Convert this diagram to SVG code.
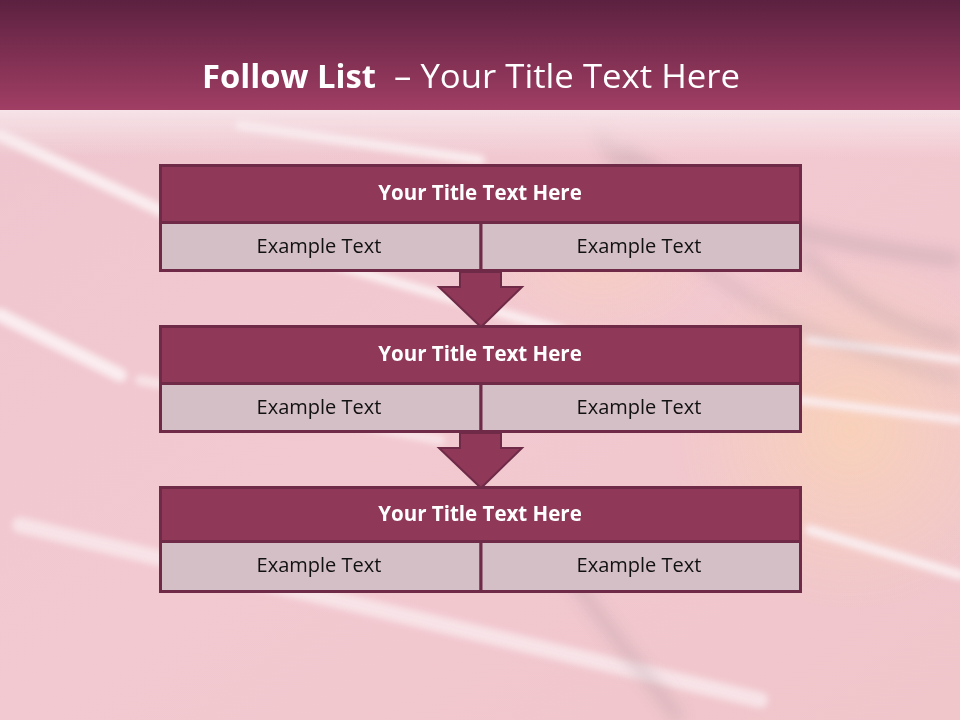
<svg xmlns="http://www.w3.org/2000/svg" width="960" height="720" viewBox="0 0 960 720">
<defs>
<linearGradient id="hdr" x1="0" y1="0" x2="0" y2="1">
<stop offset="0" stop-color="#5C2140"/>
<stop offset="1" stop-color="#A13E64"/>
</linearGradient>
<linearGradient id="bg" x1="0" y1="0" x2="1" y2="1">
<stop offset="0" stop-color="#EEC5CE"/>
<stop offset="0.5" stop-color="#F3C9D1"/>
<stop offset="1" stop-color="#F0C6CB"/>
</linearGradient>
<linearGradient id="fade" x1="0" y1="0" x2="0" y2="1">
<stop offset="0" stop-color="#F6E6EA" stop-opacity="0.95"/>
<stop offset="1" stop-color="#F6E6EA" stop-opacity="0"/>
</linearGradient>
<radialGradient id="orange" cx="0.5" cy="0.5" r="0.5">
<stop offset="0" stop-color="#F9D2B8"/>
<stop offset="1" stop-color="#F9D2B8" stop-opacity="0"/>
</radialGradient>
<filter id="blur" x="-20%" y="-20%" width="140%" height="140%"><feGaussianBlur stdDeviation="3"/></filter>
<filter id="blur2" x="-20%" y="-20%" width="140%" height="140%"><feGaussianBlur stdDeviation="8"/></filter>
<style>
.title{fill:#8F3858;stroke:#6E2A46;stroke-width:3}
.sub{fill:#D5BFC6;stroke:#6E2A46;stroke-width:3}
.tt{font-family:"Open Sans","Noto Sans",sans-serif;font-weight:bold;font-size:20.5px;fill:#FFFFFF;text-anchor:middle}
.et{font-family:"Open Sans","Noto Sans",sans-serif;font-size:20px;fill:#111111;text-anchor:middle}
.arrow{fill:#8F3858;stroke:#6E2A46;stroke-width:2}
.hd{font-family:"Open Sans","Noto Sans",sans-serif;font-size:33px;fill:#FFFFFF}
</style>
</defs>
<rect width="960" height="720" fill="url(#bg)"/>
<g id="background" opacity="0.9">
<ellipse cx="850" cy="430" rx="180" ry="180" fill="url(#orange)"/>
<ellipse cx="600" cy="260" rx="120" ry="80" fill="url(#orange)" opacity="0.6"/>
<g filter="url(#blur)" stroke-linecap="round" fill="none">
<path d="M0,135 L170,215" stroke="#FBF1F3" stroke-width="12"/>
<path d="M250,240 L560,330" stroke="#FBF1F3" stroke-width="10"/>
<path d="M0,315 L120,375" stroke="#FBF1F3" stroke-width="14"/>
<path d="M140,380 L440,440" stroke="#F8E6EA" stroke-width="10"/>
<path d="M20,525 L760,700" stroke="#F8E6EA" stroke-width="16"/>
<path d="M810,530 L960,575" stroke="#FBF1F3" stroke-width="10"/>
<path d="M800,400 L960,420" stroke="#FBF1F3" stroke-width="8"/>
<path d="M810,340 L960,360" stroke="#FBF1F3" stroke-width="8"/>
<path d="M240,125 L480,160" stroke="#FBF1F3" stroke-width="10"/>
</g>
<g filter="url(#blur2)" fill="none" stroke="#A8939A" stroke-opacity="0.55">
<path d="M620,150 C700,200 780,240 960,260" stroke-width="10"/>
<path d="M800,250 C850,300 900,330 960,340" stroke-width="8"/>
<path d="M600,130 C650,250 760,330 960,380" stroke-width="6"/>
<path d="M560,560 C600,620 650,680 680,720" stroke-width="8"/>
</g>
</g>
<rect x="0" y="108" width="960" height="50" fill="url(#fade)"/>
<rect x="0" y="0" width="960" height="110" fill="url(#hdr)"/>
<text class="hd" x="202" y="88" font-weight="bold" textLength="174" lengthAdjust="spacingAndGlyphs">Follow List</text>
<text class="hd" x="394" y="88" textLength="346" lengthAdjust="spacingAndGlyphs">– Your Title Text Here</text>
<g id="connectors">
<path class="arrow" d="M460,272 L501,272 L501,287 L522,287 L481,327 L439,287 L460,287 Z"/>
<path class="arrow" d="M460,433 L501,433 L501,448 L522,448 L481,488 L439,448 L460,448 Z"/>
</g>
<g id="node1">
<rect class="title" x="160.5" y="165.5" width="640" height="57"/>
<rect class="sub" x="160.5" y="222.5" width="320.5" height="48"/>
<rect class="sub" x="481" y="222.5" width="319.5" height="48"/>
<text class="tt" x="480" y="200">Your Title Text Here</text>
<text class="et" x="319" y="253">Example Text</text>
<text class="et" x="639" y="253">Example Text</text>
</g>
<g id="node2">
<rect class="title" x="160.5" y="326.5" width="640" height="57"/>
<rect class="sub" x="160.5" y="383.5" width="320.5" height="48"/>
<rect class="sub" x="481" y="383.5" width="319.5" height="48"/>
<text class="tt" x="480" y="361">Your Title Text Here</text>
<text class="et" x="319" y="414">Example Text</text>
<text class="et" x="639" y="414">Example Text</text>
</g>
<g id="node3">
<rect class="title" x="160.5" y="487.5" width="640" height="54"/>
<rect class="sub" x="160.5" y="541.5" width="320.5" height="50"/>
<rect class="sub" x="481" y="541.5" width="319.5" height="50"/>
<text class="tt" x="480" y="521">Your Title Text Here</text>
<text class="et" x="319" y="572">Example Text</text>
<text class="et" x="639" y="572">Example Text</text>
</g>
</svg>
